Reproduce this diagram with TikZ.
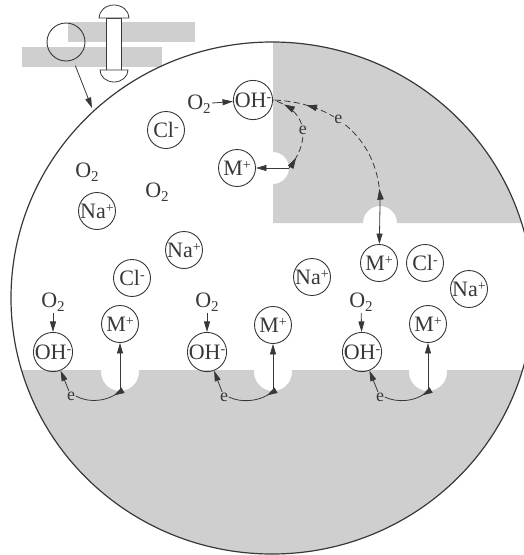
\documentclass[tikz,border=0pt]{standalone}
\usepackage{fontspec}
\setmainfont{Liberation Serif}
\usetikzlibrary{arrows.meta,decorations.markings}
\definecolor{metal}{gray}{0.81}
\definecolor{ink}{gray}{0.22}
\newcommand{\chg}[1]{\raisebox{0.55ex}{\fontsize{14}{14}\selectfont #1}}
\newcommand{\idx}[1]{\raisebox{-0.45ex}{\fontsize{15}{15}\selectfont #1}}
\begin{document}
\begin{tikzpicture}[x=1pt,y=-1pt,
  ion/.style={circle,draw=ink,line width=0.9pt,minimum size=37pt,inner sep=0pt,
              font=\fontsize{22}{24}\selectfont,text=ink},
  gas/.style={inner sep=1pt,font=\fontsize{22}{24}\selectfont,text=ink},
  elec/.style={inner sep=0.6pt,font=\fontsize{18}{20}\selectfont,text=ink},
  wire/.style={draw=ink,line width=0.8pt},
  flow/.style={wire,-{Triangle[length=10.5pt,width=6pt]}},
  dashwire/.style={wire,dash pattern=on 6pt off 3.5pt},
  midtip/.style={postaction={decorate},
     decoration={markings,mark=at position #1 with {\arrow[solid,ink]{Triangle[length=10.5pt,width=6pt]}}}},
]
\useasboundingbox (0,0) rectangle (523,555);

% sheets joined by a rivet
\fill[metal] (68,22) rectangle (195,42);
\fill[metal] (22,47) rectangle (162,67);
\filldraw[fill=white,draw=ink,line width=0.8pt] (106,18) rectangle (121,70);
\filldraw[fill=white,draw=ink,line width=0.8pt] (99,18) -- (129,18)
   arc[start angle=0,end angle=-180,x radius=15,y radius=13] -- cycle;
\filldraw[fill=white,draw=ink,line width=0.8pt] (100,70) -- (128,70)
   arc[start angle=0,end angle=180,x radius=14,y radius=12] -- cycle;
\node[circle,draw=ink,line width=0.9pt,minimum size=38pt,inner sep=0pt] (grain) at (66,42) {};
\coordinate (rim) at (92,108);

% magnified crevice region
\begin{scope}
  \clip (272,298) ellipse[x radius=261,y radius=256];
  \fill[metal] (273,-10) -- (273,152) arc[start angle=-90,end angle=90,radius=16]
     -- (273,223) -- (363,223) arc[start angle=180,end angle=360,radius=17]
     -- (540,223) -- (540,-10) -- cycle;
  \fill[metal] (-10,370) -- (101.1,370) arc[start angle=186,end angle=-6,radius=19]
     -- (254.1,370) arc[start angle=186,end angle=-6,radius=19]
     -- (409.1,370) arc[start angle=186,end angle=-6,radius=19]
     -- (540,370) -- (540,570) -- (-10,570) -- cycle;
\end{scope}
\draw[ink,line width=1.2pt] (272,298) ellipse[x radius=261,y radius=256];
\draw[flow,shorten <=6pt] (grain) -- (rim);

% pit sites
\coordinate (pitT) at (289,168);
\coordinate (pitR) at (380,206);
\coordinate (pitL) at (120,391);
\coordinate (pitM) at (273,391);
\coordinate (pitN) at (428,391);

% species in solution
\node[ion] (ohT) at (253,100) {OH\chg{-}};
\node[gas] (o2T) at (199,104) {O\idx{2}};
\node[ion] (clA) at (166,130) {Cl\chg{-}};
\node[ion] (mT)  at (237,168) {M\chg{+}};
\node[gas] (o2A) at (87,172) {O\idx{2}};
\node[gas] (o2B) at (157,192) {O\idx{2}};
\node[ion] (naA) at (97,211) {Na\chg{+}};
\node[ion] (naB) at (184,250) {Na\chg{+}};
\node[ion] (clB) at (132,278) {Cl\chg{-}};
\node[ion] (naC) at (312,277) {Na\chg{+}};
\node[ion] (mR)  at (379,263) {M\chg{+}};
\node[ion] (clC) at (425,263) {Cl\chg{-}};
\node[ion] (naD) at (469,289) {Na\chg{+}};

\node[gas] (o2L) at (53,302) {O\idx{2}};
\node[ion] (ohL) at (53,352) {OH\chg{-}};
\node[ion] (mL)  at (120,324) {M\chg{+}};
\node[gas] (o2M) at (207,302) {O\idx{2}};
\node[ion] (ohM) at (207,352) {OH\chg{-}};
\node[ion] (mM)  at (273,325) {M\chg{+}};
\node[gas] (o2N) at (361,302) {O\idx{2}};
\node[ion] (ohN) at (362,352) {OH\chg{-}};
\node[ion] (mN)  at (428,324) {M\chg{+}};

% electrons in the metal
\node[elec] (eL) at (71,396) {e};
\node[elec] (eM) at (224,397) {e};
\node[elec] (eN) at (380,397) {e};

% oxygen reduction
\draw[flow] (o2T) -- (ohT);
\draw[flow] (o2L) -- (ohL);
\draw[flow] (o2M) -- (ohM);
\draw[flow] (o2N) -- (ohN);

% metal dissolution
\draw[flow] (pitT) -- (mT);
\draw[flow] (pitR) -- (mR);
\draw[flow] (pitL) -- (mL);
\draw[flow] (pitM) -- (mM);
\draw[flow] (pitN) -- (mN);

% electron paths
\draw[dashwire,midtip=0.1,midtip=0.8] (pitR) .. controls (382,150) and (345,103) ..
   node[pos=0.63,elec,fill=metal] {e} (ohT.east);
\draw[dashwire,midtip=0.14,midtip=0.86] (pitT) .. controls (308,145) and (312,112) ..
   node[pos=0.5,elec,fill=metal] {e} (ohT.east);

\draw[wire,midtip=0.16] (pitL) .. controls (108,402) and (88,403) .. (eL.east);
\draw[flow] (eL) -- (ohL);
\draw[wire,midtip=0.16] (pitM) .. controls (261,402) and (241,403) .. (eM.east);
\draw[flow] (eM) -- (ohM);
\draw[wire,midtip=0.16] (pitN) .. controls (416,402) and (397,403) .. (eN.east);
\draw[flow] (eN) -- (ohN);
\end{tikzpicture}
\end{document}
